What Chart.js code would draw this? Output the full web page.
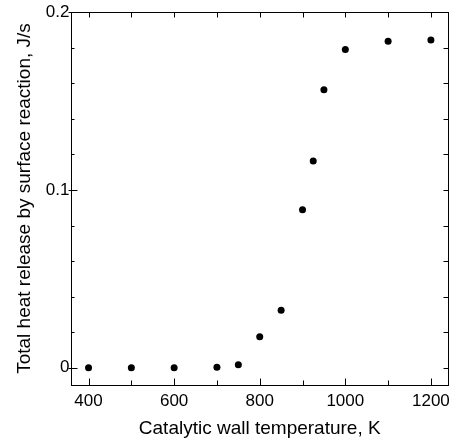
<!DOCTYPE html>
<html>
<head>
<meta charset="utf-8">
<script src="https://cdn.jsdelivr.net/npm/chart.js@4.4.1/dist/chart.umd.min.js"></script>
<style>
  html, body { margin: 0; padding: 0; background: #fff; }
</style>
</head>
<body>
<canvas id="chart" width="456" height="443"></canvas>
<script>
// wall temperature (K) vs total heat release (J/s)
const temps = [400, 500, 600, 700, 750, 800, 850, 900, 925, 950, 1000, 1100, 1200];
const heat = [0, 0, 0, 0.0003, 0.0017, 0.0174, 0.0323, 0.0889, 0.1163, 0.1564, 0.179, 0.1836, 0.1843];

const xTicks = [400, 500, 600, 700, 800, 900, 1000, 1100, 1200];
const xLabels = [400, 600, 800, 1000, 1200];
const yTicks = [0, 0.02, 0.04, 0.06, 0.08, 0.1, 0.12, 0.14, 0.16, 0.18, 0.2];
const yLabels = [0, 0.1, 0.2];

const FONT = 'Liberation Sans, Arial, sans-serif';

// frame + inward tick marks on all four sides
const frameTicks = {
  id: 'frameTicks',
  afterDraw(chart) {
    const { ctx, chartArea: a, scales } = chart;
    const L = Math.round(a.left) + 0.5, R = Math.round(a.right) + 0.5;
    const T = Math.round(a.top) + 0.5, B = Math.round(a.bottom) + 0.5;
    ctx.save();
    ctx.strokeStyle = '#000';
    ctx.lineWidth = 1;
    ctx.strokeRect(L, T, R - L, B - T);
    ctx.beginPath();
    xTicks.forEach(v => {
      const x = Math.round(scales.x.getPixelForValue(v)) + 0.5;
      const major = xLabels.includes(v);
      ctx.moveTo(x, B); ctx.lineTo(x, B - (major ? 7 : 5));
      ctx.moveTo(x, T); ctx.lineTo(x, T + 5);
    });
    yTicks.forEach(v => {
      const y = Math.round(scales.y.getPixelForValue(v)) + 0.5;
      const major = yLabels.includes(v);
      if (major) { ctx.moveTo(L - 3, y); ctx.lineTo(L + 6, y); }
      else { ctx.moveTo(L, y); ctx.lineTo(L + 3, y); }
      ctx.moveTo(R, y); ctx.lineTo(R - 5, y);
    });
    ctx.stroke();
    ctx.restore();
  }
};

new Chart(document.getElementById('chart'), {
  type: 'scatter',
  data: {
    datasets: [{
      data: temps.map((t, i) => ({ x: t, y: heat[i] })),
      backgroundColor: '#000',
      borderWidth: 0,
      pointRadius: 3.5
    }]
  },
  options: {
    responsive: false,
    animation: false,
    devicePixelRatio: 1,
    layout: { padding: { top: 3, right: 4, left: 13, bottom: 3 } },
    plugins: { legend: { display: false }, tooltip: { enabled: false } },
    scales: {
      x: {
        type: 'linear',
        min: 360,
        max: 1240,
        afterBuildTicks: axis => { axis.ticks = xTicks.map(v => ({ value: v })); },
        grid: { display: false, drawTicks: false },
        border: { display: false },
        ticks: {
          autoSkip: false,
          maxRotation: 0,
          padding: 6,
          color: '#000',
          font: { family: FONT, size: 17 },
          callback: v => xLabels.includes(v) ? String(v) : ''
        },
        title: {
          display: true,
          text: 'Catalytic wall temperature, K',
          color: '#000',
          font: { family: FONT, size: 19 },
          padding: { top: 0, bottom: 0 }
        }
      },
      y: {
        min: -0.0096,
        max: 0.2,
        afterBuildTicks: axis => { axis.ticks = yTicks.map(v => ({ value: v })); },
        grid: { display: false, drawTicks: false },
        border: { display: false },
        ticks: {
          autoSkip: false,
          padding: 2,
          color: '#000',
          font: { family: FONT, size: 17 },
          callback: v => yLabels.includes(v) ? String(v) : ''
        },
        title: {
          display: true,
          text: 'Total heat release by surface reaction, J/s',
          color: '#000',
          font: { family: FONT, size: 19 },
          padding: { top: 0, bottom: 8 }
        }
      }
    }
  },
  plugins: [frameTicks]
});
</script>
</body>
</html>
